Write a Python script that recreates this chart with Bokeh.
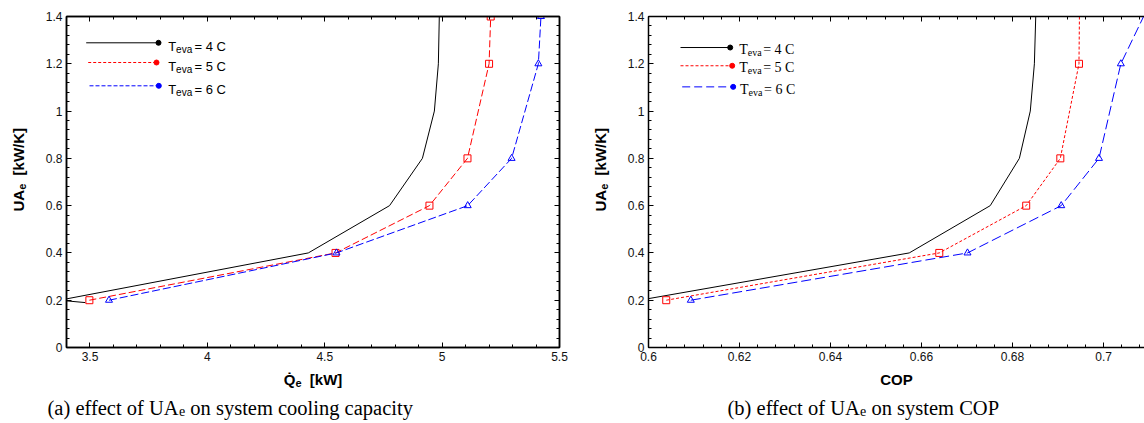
import numpy as np
from bokeh.plotting import figure
from bokeh.models import Label, LinearAxis, FixedTicker, CustomJSTickFormatter, Range1d
from bokeh.layouts import row, column
from bokeh.embed import file_html
from bokeh.resources import INLINE

# ---------------- data ----------------
t_eva = [4, 5, 6]

# (a) UA_e versus cooling capacity Q_e [kW]
q_t4 = [3.48, 3.37, 4.43, 4.776, 4.916, 4.967, 4.984, 4.988]
ua_q_t4 = [0.19, 0.2, 0.4, 0.6, 0.8, 1.0, 1.2, 1.4]
q_t5 = [3.4975, 4.546, 4.946, 5.108, 5.200, 5.207]
ua_q_t5 = [0.2, 0.4, 0.6, 0.8, 1.2, 1.4]
q_t6 = [3.581, 4.55, 5.109, 5.296, 5.410, 5.421]
ua_q_t6 = [0.2, 0.4, 0.6, 0.8, 1.2, 1.4]

# (b) UA_e versus COP
cop_t4 = [0.598, 0.6573, 0.6751, 0.6815, 0.6839, 0.6848, 0.6851]
ua_c_t4 = [0.2, 0.4, 0.6, 0.8, 1.0, 1.2, 1.4]
cop_t5 = [0.6039, 0.6639, 0.6830, 0.6905, 0.6946, 0.6947]
ua_c_t5 = [0.2, 0.4, 0.6, 0.8, 1.2, 1.4]
cop_t6 = [0.6093, 0.6701, 0.6907, 0.6990, 0.7038, 0.7088]
ua_c_t6 = [0.2, 0.4, 0.6, 0.8, 1.2, 1.4]

yticks = [0, 0.2, 0.4, 0.6, 0.8, 1.0, 1.2, 1.4]
ytick_labels = ["0", "0.2", "0.4", "0.6", "0.8", "1", "1.2", "1.4"]
xticks_q = [3.5, 4.0, 4.5, 5.0, 5.5]
xtick_labels_q = ["3.5", "4", "4.5", "5", "5.5"]
xticks_cop = [0.6, 0.62, 0.64, 0.66, 0.68, 0.7]
xtick_labels_cop = ["0.6", "0.62", "0.64", "0.66", "0.68", "0.7"]

# ---------------- layout (page pixels; the page has no margin) ----------------
PH = 368          # height of the plot figures   (page y 0..368)
BH = 55           # figure holding x title + caption (page y 368..423)
SANS = "Liberation Sans"
SERIF = "Liberation Serif"
FMT = CustomJSTickFormatter(code="return String(parseFloat(tick.toFixed(4)));")
BLANK = CustomJSTickFormatter(code="return '';")


def make_fig(width, xr, borders, outline):
    l, r, t, b = borders
    p = figure(width=width, height=PH, x_range=Range1d(*xr), y_range=Range1d(0, 1.4),
               output_backend="svg", toolbar_location=None,
               min_border_left=l, min_border_right=r, min_border_top=t, min_border_bottom=b)
    p.grid.visible = False
    p.background_fill_color = "white"
    p.border_fill_color = "white"
    p.outline_line_color = "black" if outline else None
    p.outline_line_width = 1.5
    return p


def text_fig(width, height):
    p = figure(width=width, height=height, x_range=Range1d(0, 1), y_range=Range1d(0, 1),
               output_backend="svg", toolbar_location=None,
               x_axis_location=None, y_axis_location=None,
               min_border_left=0, min_border_right=0, min_border_top=0, min_border_bottom=0)
    p.grid.visible = False
    p.outline_line_color = None
    p.background_fill_color = "white"
    p.border_fill_color = "white"
    return p


def style_axis(ax, ticks, minor, labels, show):
    ax.ticker = FixedTicker(ticks=ticks, minor_ticks=minor)
    ax.axis_line_color = "black"
    ax.axis_line_width = 1.5
    ax.major_tick_in = 5
    ax.major_tick_out = 0
    ax.minor_tick_in = 3
    ax.minor_tick_out = 0
    ax.major_tick_line_color = "black"
    ax.minor_tick_line_color = "black"
    ax.major_label_text_font = SANS
    ax.major_label_text_color = "#111111"
    ax.axis_label = None
    if show:
        ax.formatter = FMT
        ax.major_label_overrides = {float(k): v for k, v in zip(ticks, labels)}
        ax.major_label_text_font_size = "12px"
        ax.major_label_standoff = 4
    else:
        ax.formatter = BLANK
        ax.major_label_text_font_size = "1px"
        ax.major_label_standoff = 0


class Frame:
    """Maps page pixels to a figure's data / frame-relative screen units."""
    def __init__(self, p, fl, fr, ft, fb):
        self.p, self.fl, self.fr, self.ft, self.fb = p, fl, fr, ft, fb

    def dx(self, px):
        s, e = self.p.x_range.start, self.p.x_range.end
        return s + (px - self.fl) / (self.fr - self.fl) * (e - s)

    def dy(self, py):
        s, e = self.p.y_range.start, self.p.y_range.end
        return s + (self.fb - py) / (self.fb - self.ft) * (e - s)

    def text(self, txt, ax, ay, size, font=SANS, bold=False, angle=0.0,
             align="left", baseline="alphabetic", color="black"):
        self.p.add_layout(Label(x=ax - self.fl, y=self.fb - ay, x_units="screen", y_units="screen",
                                text=txt, text_font=font, text_font_size=f"{size}px",
                                text_font_style="bold" if bold else "normal",
                                angle=angle, text_align=align, text_baseline=baseline,
                                text_color=color))


minor_y = [round(v, 4) for v in np.arange(0, 1.4001, 0.04)]
minor_q = [round(v, 4) for v in np.arange(3.4, 5.5001, 0.1)]
minor_c = [round(v, 4) for v in np.arange(0.6, 0.7201, 0.004)]

# ---------- left plot: page x 38..590 ----------
p1 = make_fig(552, (3.4, 5.5), (28, 31, 16, 21), True)
f1 = Frame(p1, 66, 559, 16, 347)
style_axis(p1.xaxis[0], xticks_q, minor_q, xtick_labels_q, True)
style_axis(p1.yaxis[0], yticks, minor_y, ytick_labels, True)
top1 = LinearAxis()
style_axis(top1, xticks_q, minor_q, xtick_labels_q, False)
p1.add_layout(top1, "above")
right1 = LinearAxis()
style_axis(right1, yticks, minor_y, ytick_labels, False)
p1.add_layout(right1, "right")

p1.line(q_t4, ua_q_t4, line_color="black", line_width=1)
p1.line(q_t5, ua_q_t5, line_color="red", line_width=1, line_dash="7 3")
p1.scatter(q_t5, ua_q_t5, marker="square", size=7, fill_color=None, line_color="red", line_width=1)
p1.line(q_t6, ua_q_t6, line_color="blue", line_width=1, line_dash="8 3")
p1.scatter(q_t6, ua_q_t6, marker="triangle", size=7, fill_color=None, line_color="blue", line_width=1)

# ---------- right plot: page x 620..1144 ----------
p2 = make_fig(524, (0.6, 0.709), (28, 0, 13, 21), False)
f2 = Frame(p2, 648, 1144, 13, 347)
style_axis(p2.xaxis[0], xticks_cop, minor_c, xtick_labels_cop, True)
style_axis(p2.yaxis[0], yticks, minor_y, ytick_labels, True)
top2 = LinearAxis()
style_axis(top2, xticks_cop, minor_c, xtick_labels_cop, False)
p2.add_layout(top2, "above")

p2.line(cop_t4, ua_c_t4, line_color="black", line_width=1)
p2.line(cop_t5, ua_c_t5, line_color="red", line_width=1, line_dash="3 2")
p2.scatter(cop_t5[:-1], ua_c_t5[:-1], marker="square", size=7, fill_color=None, line_color="red", line_width=1)
p2.line(cop_t6, ua_c_t6, line_color="blue", line_width=1, line_dash="10 4")
p2.scatter(cop_t6[:-1], ua_c_t6[:-1], marker="triangle", size=7, fill_color=None, line_color="blue", line_width=1)

# ---------- legends ----------
colors = ["black", "red", "blue"]


def legend(fr, rows, dashes, font, main_px, sub_px, t_w, eva_w, gap, base_off, sub_off):
    for (x0, x1, y, tx), col, dash, t in zip(rows, colors, dashes, t_eva):
        fr.p.segment(x0=[fr.dx(x0)], y0=[fr.dy(y)], x1=[fr.dx(x1)], y1=[fr.dy(y)],
                     line_color=col, line_width=1, line_dash=dash)
        fr.p.scatter([fr.dx(x1)], [fr.dy(y)], marker="circle", size=5, fill_color=col, line_color=col)
        fr.text("T", tx, y + base_off, main_px, font=font)
        fr.text("eva", tx + t_w, y + sub_off, sub_px, font=font)
        fr.text(f"= {t} C", tx + t_w + eva_w + gap, y + base_off, main_px, font=font)


legend(f1, [(85.7, 158, 42.3, 167.7), (87.7, 156, 62, 167.7), (89, 158.3, 85.3, 167.7)],
       ["solid", "3 2", "4 2"], SANS, 13, 10, 7.9, 16.1, 2.3, 3.5, 6.5)
legend(f2, [(680, 729.7, 44.3, 738.7), (680, 731.7, 62.7, 738.7), (681.7, 732.7, 84, 739.5)],
       ["solid", "3 2", "8 4"], SERIF, 14, 10, 8.6, 13.9, 1.5, 4.5, 7.5)

# ---------- y titles (narrow figures left of each plot) ----------
y1 = text_fig(38, PH)     # page x 0..38
y2 = text_fig(30, PH)     # page x 590..620
for fig, x_left, w, cx in ((y1, 0, 38, 18), (y2, 590, 30, 600)):
    fr = Frame(fig, x_left, x_left + w, 0, PH)
    y0 = 232
    fr.text("UA", cx, y0, 15, bold=True, angle=np.pi / 2, baseline="middle")
    fr.text("e", cx + 3.5, y0 - 21.7, 11, bold=True, angle=np.pi / 2, baseline="middle")
    fr.text("[kW/K]", cx, y0 - 21.7 - 6.1 - 8.3, 15, bold=True, angle=np.pi / 2, baseline="middle")

# ---------- x titles and captions (figures under each plot) ----------
b1 = text_fig(590, BH)    # page x 0..590,    y 368..423
b2 = text_fig(554, BH)    # page x 590..1144
g1 = Frame(b1, 0, 590, PH, PH + BH)
g2 = Frame(b2, 590, 1144, PH, PH + BH)

XT = 379
qx = 283.2
g1.text("Q\u0307", qx, XT, 15, bold=True)
g1.text("e", qx + 11.7, XT + 3, 11, bold=True)
g1.text("[kW]", qx + 11.7 + 6.1 + 8.3, XT, 15, bold=True)
g2.text("COP", 896, XT, 15, bold=True, align="center")

CAP = 20.5
CB = 407
for fr, lead, x0, tail, lead_em in ((g1, "(a) effect of UA", 47, "on system cooling capacity", 6.413),
                                    (g2, "(b) effect of UA", 727, "on system COP", 6.469)):
    lw = lead_em * CAP
    fr.text(lead, x0, CB, CAP, font=SERIF)
    fr.text("e", x0 + lw, CB + 3, 14, font=SERIF)
    fr.text(tail, x0 + lw + 0.444 * 14 + 0.25 * CAP, CB, CAP, font=SERIF)

layout = column(row(y1, p1, y2, p2), row(b1, b2))
html = file_html(layout, INLINE)
html = html.replace("<head>", "<head><style>html,body{overflow:hidden;}</style>", 1)
open("out.html", "w").write(html)
